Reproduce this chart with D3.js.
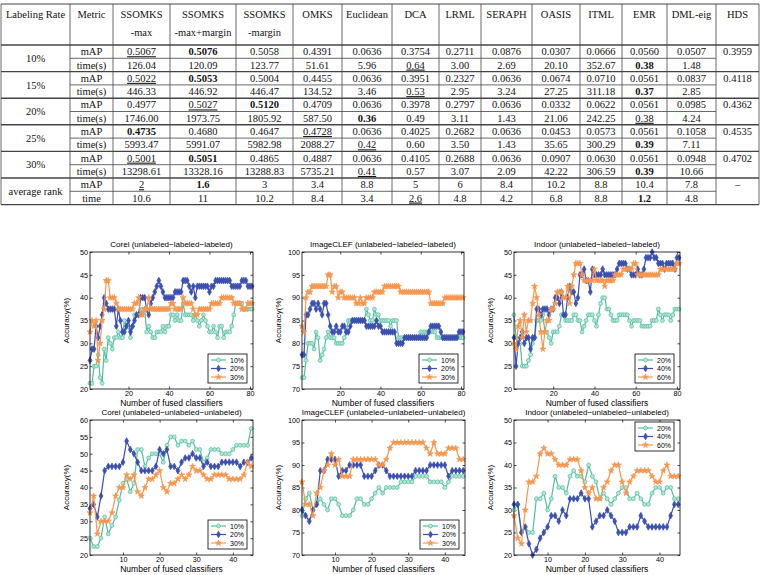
<!DOCTYPE html>
<html>
<head>
<meta charset="utf-8">
<script src="https://cdn.jsdelivr.net/npm/d3@7"></script>
<style>
  body{margin:0;background:#fff}
  svg{display:block}
</style>
</head>
<body>
<svg id="fig" width="760" height="575"></svg>
<script>
/* ---------- TABLE DATA ---------- */
const head1 = ["Labeling Rate","Metric","SSOMKS","SSOMKS","SSOMKS","OMKS","Euclidean","DCA","LRML","SERAPH","OASIS","ITML","EMR","DML-eig","HDS"];
const head2 = ["","","-max","-max+margin","-margin","","","","","","","","","",""];
const rates = ["10%","15%","20%","25%","30%","average rank"];
const metricNames = [["mAP","time(s)"],["mAP","time(s)"],["mAP","time(s)"],["mAP","time(s)"],["mAP","time(s)"],["mAP","time"]];
const mapRows = [
  ["0.5067","0.5076","0.5058","0.4391","0.0636","0.3754","0.2711","0.0876","0.0307","0.0666","0.0560","0.0507"],
  ["0.5022","0.5053","0.5004","0.4455","0.0636","0.3951","0.2327","0.0636","0.0674","0.0710","0.0561","0.0837"],
  ["0.4977","0.5027","0.5120","0.4709","0.0636","0.3978","0.2797","0.0636","0.0332","0.0622","0.0561","0.0985"],
  ["0.4735","0.4680","0.4647","0.4728","0.0636","0.4025","0.2682","0.0636","0.0453","0.0573","0.0561","0.1058"],
  ["0.5001","0.5051","0.4865","0.4887","0.0636","0.4105","0.2688","0.0636","0.0907","0.0630","0.0561","0.0948"],
  ["2","1.6","3","3.4","8.8","5","6","8.4","10.2","8.8","10.4","7.8"]
];
const timeRows = [
  ["126.04","120.09","123.77","51.61","5.96","0.64","3.00","2.69","20.10","352.67","0.38","1.48"],
  ["446.33","446.92","446.47","134.52","3.46","0.53","2.95","3.24","27.25","311.18","0.37","2.85"],
  ["1746.00","1973.75","1805.92","587.50","0.36","0.49","3.11","1.43","21.06","242.25","0.38","4.24"],
  ["5993.47","5991.07","5982.98","2088.27","0.42","0.60","3.50","1.43","35.65","300.29","0.39","7.11"],
  ["13298.61","13328.16","13288.83","5735.21","0.41","0.57","3.07","2.09","42.22","306.59","0.39","10.66"],
  ["10.6","11","10.2","8.4","3.4","2.6","4.8","4.2","6.8","8.8","1.2","4.8"]
];
const hdsVals = ["0.3959","0.4118","0.4362","0.4535","0.4702","–"];
// cell keys: m=mAP row, t=time row, group index, column index
const boldCells = ["m0-1","t0-10","m1-1","t1-10","m2-2","t2-4","m3-0","t3-10","m4-1","t4-10","m5-1","t5-10"];
const underCells = ["m0-0","t0-5","m1-0","t1-5","m2-1","t2-10","m3-3","t3-4","m4-0","t4-4","m5-0","t5-5"];

/* ---------- CHART DATA ---------- */
const corelLab10 = [21.25,21.25,25,25,27.5,22.5,21.25,28.75,26.25,31.25,
  30,28.75,31.25,31.25,32.5,31.25,31.25,35,33.75,33.75,
  31.25,33.75,36.25,36.25,36.25,36.25,37.5,37.5,32.5,33.75,
  32.5,31.25,31.25,32.5,32.5,32.5,33.75,32.5,33.75,33.75,
  36.25,36.25,35,36.25,35,35,38.75,36.25,36.25,36.25,
  36.25,35,36.25,35,33.75,35,36.25,35,33.75,32.5,
  32.5,33.75,32.5,31.25,33.75,33.75,31.25,32.5,32.5,32.5,
  33.75,36.25,38.75,38.75,38.75,38.75,37.5,37.5,37.5,37.5,37.5];
const corelLab20 = [26.25,28.75,28.75,33.75,31.25,33.75,36.25,40,38.75,37.5,
  37.5,37.5,37.5,33.75,37.5,35,32.5,32.5,33.75,35,
  32.5,33.75,35,36.25,36.25,40,40,40,37.5,36.25,
  38.75,40,41.25,42.5,43.75,42.5,41.25,40,40,40,
  40,40,41.25,41.25,41.25,41.25,43.75,43.75,43.75,42.5,
  41.25,42.5,40,42.5,42.5,42.5,42.5,42.5,42.5,41.25,
  42.5,42.5,43.75,43.75,43.75,43.75,43.75,43.75,43.75,43.75,
  42.5,42.5,42.5,42.5,42.5,43.75,43.75,43.75,42.5,42.5,42.5];
const corelLab30 = [32.5,35,33.75,35,26.25,30,35,37.5,43.75,43.75,
  40,40,40,38.75,37.5,37.5,37.5,37.5,37.5,37.5,
  37.5,37.5,38.75,38.75,40,36.25,36.25,37.5,37.5,40,
  37.5,37.5,37.5,37.5,37.5,37.5,37.5,37.5,37.5,37.5,
  38.75,38.75,37.5,37.5,37.5,37.5,40,38.75,38.75,38.75,
  38.75,37.5,36.25,36.25,37.5,37.5,37.5,37.5,37.5,37.5,
  38.75,38.75,38.75,38.75,38.75,40,40,40,40,40,
  40,38.75,38.75,38.75,38.75,37.5,37.5,37.5,38.75,38.75,38.75];

const clefLab10 = [72.5,72.5,76.25,80,80,80,78.75,82.5,81.25,76.25,
  77.5,78.75,81.25,82.5,81.25,81.25,81.25,80,80,80,
  80,81.25,82.5,85,85,85,85,85,85,85,
  85,85,87.5,86.25,85,85,87.5,86.25,86.25,85,
  85,85,85,85,83.75,85,85,85,81.25,81.25,
  81.25,81.25,81.25,81.25,81.25,81.25,81.25,81.25,81.25,82.5,
  82.5,82.5,82.5,82.5,82.5,82.5,82.5,81.25,81.25,81.25,
  81.25,81.25,81.25,81.25,81.25,81.25,81.25,81.25,81.25,81.25,81.25];
const clefLab20 = [77.5,77.5,86.25,86.25,87.5,88.75,88.75,87.5,88.75,87.5,
  86.25,88.75,88.75,86.25,83.75,82.5,82.5,83.75,82.5,82.5,
  83.75,83.75,82.5,82.5,83.75,85,85,85,85,85,
  85,85,83.75,83.75,83.75,83.75,83.75,85,83.75,83.75,
  82.5,82.5,82.5,82.5,82.5,82.5,82.5,80,80,80,
  80,81.25,81.25,81.25,81.25,81.25,81.25,81.25,81.25,81.25,
  81.25,81.25,81.25,82.5,83.75,83.75,83.75,83.75,83.75,82.5,
  81.25,81.25,81.25,81.25,81.25,81.25,81.25,81.25,82.5,82.5,82.5];
const clefLab30 = [83.75,82.5,90,91.25,91.25,92.5,92.5,92.5,92.5,92.5,
  92.5,92.5,92.5,95,95,91.25,92.5,92.5,90,91.25,
  91.25,90,90,90,90,90,90,88.75,88.75,90,
  88.75,88.75,90,90,90,90,91.25,91.25,91.25,91.25,
  91.25,92.5,92.5,92.5,92.5,92.5,92.5,92.5,92.5,91.25,
  91.25,91.25,91.25,91.25,91.25,91.25,91.25,91.25,91.25,91.25,
  91.25,91.25,91.25,91.25,88.75,88.75,88.75,88.75,88.75,88.75,
  88.75,90,90,90,90,90,90,90,90,90,90];

const indoorLab20 = [36.25,31.25,30,30,25,25,25,26.25,27.5,30,
  31.25,35,35,35,36.25,32.5,32.5,31.25,30,32.5,
  32.5,32.5,33.75,36.25,36.25,35,35,35,35,36.25,
  36.25,35,35,32.5,33.75,35,36.25,36.25,36.25,35,
  33.75,36.25,38.75,40,40,37.5,37.5,36.25,35,35,
  35,36.25,36.25,36.25,36.25,36.25,35,33.75,35,35,
  35,35,33.75,33.75,33.75,33.75,33.75,35,35,35,
  37.5,36.25,35,36.25,36.25,36.25,35,36.25,37.5,37.5,37.5];
const indoorLab40 = [31.25,25,30,31.25,32.5,30,31.25,31.25,28.75,31.25,
  31.25,37.5,37.5,36.25,37.5,37.5,37.5,36.25,37.5,37.5,
  40,40,38.75,41.25,36.25,36.25,40,42.5,41.25,41.25,
  38.75,40,45,45,46.25,43.75,43.75,41.25,46.25,45,
  45,45,45,46.25,45,45,45,45,45,45,
  46.25,47.5,47.5,47.5,47.5,46.25,46.25,45,45,45,
  46.25,45,45,46.25,48.75,48.75,48.75,50,48.75,48.75,
  47.5,47.5,47.5,46.25,47.5,47.5,47.5,47.5,46.25,48.75,48.75];
const indoorLab60 = [30,28.75,33.75,35,31.25,36.25,32.5,35,35,38.75,
  42.5,40,36.25,32.5,28.75,32.5,35,35,37.5,37.5,
  38.75,41.25,41.25,41.25,40,40,42.5,38.75,42.5,45,
  47.5,47.5,47.5,45,43.75,43.75,43.75,43.75,43.75,46.25,
  43.75,43.75,43.75,43.75,42.5,43.75,43.75,43.75,43.75,45,
  45,45,45,46.25,46.25,46.25,46.25,46.25,47.5,47.5,
  45,45,45,45,45,45,45,45,45,45,
  45,46.25,46.25,46.25,46.25,46.25,46.25,46.25,46.25,47.5,47.5];

const corelUnl10 = [25,22.5,22.5,25,31.25,26.25,28.75,31.25,36.25,41.25,
  42.5,38.75,41.25,51.25,51.25,46.25,48.75,50,50,50,
  47.5,52.5,55,55,52.5,53.75,53.75,52.5,53.75,51.25,
  51.25,47.5,48.75,51.25,51.25,51.25,50,50,50,51.25,
  52.5,52.5,52.5,52.5,57.5];
const corelUnl20 = [33.75,35,31.25,37.5,45,46.25,46.25,46.25,46.25,47.5,
  53.75,51.25,50,47.5,45,45,45,45,46.25,51.25,
  50,51.25,46.25,46.25,45,47.5,48.75,48.75,50,48.75,
  48.75,46.25,47.5,46.25,46.25,46.25,47.5,47.5,47.5,47.5,
  47.5,46.25,47.5,47.5,48.75];
const corelUnl30 = [32.5,37.5,26.25,30,30,30,32.5,37.5,40,40,
  43.75,42.5,43.75,38.75,37.5,40,42.5,42.5,43.75,45,
  40,38.75,41.25,41.25,42.5,43.75,42.5,43.75,46.25,45,
  45,43.75,42.5,42.5,43.75,43.75,43.75,43.75,42.5,42.5,
  42.5,42.5,43.75,47.5,46.25];

const clefUnl10 = [78.75,82.5,83.75,80,81.25,82.5,81.25,80,82.5,82.5,
  81.25,78.75,78.75,78.75,80,82.5,82.5,81.25,81.25,82.5,
  83.75,85,83.75,85,85,85,85,86.25,86.25,86.25,
  86.25,87.5,87.5,87.5,87.5,86.25,86.25,86.25,86.25,85,
  86.25,87.5,87.5,87.5,87.5];
const clefUnl20 = [80,78.75,77.5,80,81.25,88.75,88.75,91.25,91.25,91.25,
  87.5,88.75,88.75,90,90,90,90,87.5,87.5,87.5,
  88.75,90,90,88.75,87.5,87.5,87.5,87.5,87.5,87.5,
  87.5,88.75,88.75,88.75,88.75,90,90,90,90,90,
  87.5,88.75,88.75,88.75,88.75];
const clefUnl30 = [86.25,81.25,81.25,78.75,83.75,85,88.75,90,92.5,90,
  91.25,87.5,87.5,87.5,91.25,91.25,91.25,91.25,91.25,91.25,
  91.25,90,90,91.25,93.75,95,95,95,95,95,
  95,95,95,95,93.75,92.5,95,92.5,92.5,92.5,
  93.75,93.75,93.75,91.25,91.25];

const indoorUnl20 = [30,31.25,25,26.25,25,25,32.5,32.5,33.75,30,
  32.5,37.5,35,35,33.75,37.5,38.75,37.5,37.5,36.25,
  40,37.5,36.25,32.5,33.75,32.5,31.25,32.5,33.75,35,
  35,32.5,32.5,33.75,32.5,31.25,31.25,33.75,35,35,
  33.75,35,35,32.5,32.5];
const indoorUnl40 = [31.25,31.25,25,26.25,22.5,20,21.25,23.75,25,26.25,
  28.75,28.75,27.5,30,28.75,32.5,32.5,32.5,33.75,32.5,
  32.5,26.25,27.5,28.75,28.75,30,28.75,27.5,25,25,
  25,26.25,26.25,26.25,28.75,27.5,26.25,26.25,26.25,26.25,
  26.25,26.25,28.75,31.25,31.25];
const indoorUnl60 = [28.75,23.75,22.5,30,36.25,36.25,37.5,42.5,43.75,42.5,
  42.5,41.25,40,40,40,41.25,41.25,41.25,38.75,35,
  33.75,35,32.5,32.5,35,36.25,38.75,40,40,36.25,
  33.75,36.25,37.5,38.75,38.75,38.75,38.75,37.5,36.25,36.25,
  38.75,40,37.5,37.5,37.5];

const labelsA = ["10%","20%","30%"];
const labelsB = ["20%","40%","60%"];
const xTicksTop = [20,40,60,80];
const xTicksBot = [10,20,30,40];

/* ---------- CONFIG ---------- */
const COLORS = ["#52bf9f","#3c50b0","#f7964f"];
const FILLS  = ["#b5e6d5","#3c50b0","#f7964f"];
const SYMS   = [d3.symbolCircle, d3.symbolDiamond, d3.symbolStar];
const SSIZE  = [12, 13, 11];
const SERIF  = "'Liberation Serif','Times New Roman',serif";
const SANS   = "'Liberation Sans',Arial,sans-serif";

const svg = d3.select("#fig");

/* ---------- TABLE ---------- */
const colX = [1,70,113,170,236,293,342,392,439,481,532,580,622,667,716,759];
const T_TOP = 4, H_BOT = 45, ROW = 13.3;
const tbl = svg.append("g").style("font-family",SERIF).style("font-size","10.5px").attr("fill","#111");
const cx = i => (colX[i]+colX[i+1])/2;
const nG = rates.length;
const T_BOT = H_BOT + nG*2*ROW;

head1.forEach((t,i)=>tbl.append("text").attr("x",cx(i)).attr("y",T_TOP+14).attr("text-anchor","middle").text(t));
head2.forEach((t,i)=>{ if(t) tbl.append("text").attr("x",cx(i)).attr("y",T_TOP+32).attr("text-anchor","middle").text(t); });

for(let gI=0; gI<nG; gI++){
  const y0 = H_BOT + gI*2*ROW;
  tbl.append("text").attr("x",cx(0)).attr("y",y0+ROW+3.6).attr("text-anchor","middle").text(rates[gI]);
  [mapRows[gI], timeRows[gI]].forEach((vals,r)=>{
    const yy = y0 + r*ROW + ROW/2 + 3.6;
    tbl.append("text").attr("x",cx(1)).attr("y",yy).attr("text-anchor","middle").text(metricNames[gI][r]);
    vals.forEach((v,c)=>{
      const key = (r===0?"m":"t")+gI+"-"+c;
      tbl.append("text").attr("x",cx(c+2)).attr("y",yy).attr("text-anchor","middle")
        .style("font-weight",boldCells.includes(key)?"bold":null)
        .style("text-decoration",underCells.includes(key)?"underline":null)
        .text(v);
    });
  });
  tbl.append("text").attr("x",cx(14)).attr("y",y0+ROW/2+3.6).attr("text-anchor","middle").text(hdsVals[gI]);
}

const lines = tbl.append("g").attr("stroke","#444").attr("fill","none");
colX.forEach(x=>lines.append("line").attr("x1",x).attr("x2",x).attr("y1",T_TOP).attr("y2",T_BOT).attr("stroke-width",0.8));
lines.append("line").attr("x1",colX[0]).attr("x2",colX[15]).attr("y1",T_TOP).attr("y2",T_TOP).attr("stroke-width",1);
for(let gI=0; gI<=nG; gI++){
  const y = H_BOT + gI*2*ROW;
  lines.append("line").attr("x1",colX[0]).attr("x2",colX[15]).attr("y1",y).attr("y2",y).attr("stroke-width",1.4);
  if(gI<nG) lines.append("line").attr("x1",colX[1]).attr("x2",colX[14]).attr("y1",y+ROW).attr("y2",y+ROW).attr("stroke-width",0.8);
}

/* ---------- PANELS ---------- */
const panels = [
  {title:"Corel (unlabeled−labeled−labeled)", x0:90, x1:253, y0:252, y1:389, xDom:[1,81.5], xTicks:xTicksTop,
   yDom:[20,50], series:[corelLab10,corelLab20,corelLab30], labels:labelsA, leg:"br"},
  {title:"ImageCLEF (unlabeled−labeled−labeled)", x0:302, x1:464, y0:252, y1:389, xDom:[1,81.5], xTicks:xTicksTop,
   yDom:[70,100], series:[clefLab10,clefLab20,clefLab30], labels:labelsA, leg:"br"},
  {title:"Indoor (unlabeled−labeled−labeled)", x0:514, x1:680, y0:252, y1:389, xDom:[1,81.5], xTicks:xTicksTop,
   yDom:[20,50], series:[indoorLab20,indoorLab40,indoorLab60], labels:labelsB, leg:"br"},
  {title:"Corel (unlabeled−unlabeled−unlabeled)", x0:90, x1:253, y0:420, y1:555, xDom:[1,45.5], xTicks:xTicksBot,
   yDom:[20,60], series:[corelUnl10,corelUnl20,corelUnl30], labels:labelsA, leg:"br"},
  {title:"ImageCLEF (unlabeled−unlabeled−unlabeled)", x0:302, x1:465, y0:420, y1:555, xDom:[1,45.5], xTicks:xTicksBot,
   yDom:[70,100], series:[clefUnl10,clefUnl20,clefUnl30], labels:labelsA, leg:"br"},
  {title:"Indoor (unlabeled−unlabeled−unlabeled)", x0:514, x1:680, y0:420, y1:555, xDom:[1,45.5], xTicks:xTicksBot,
   yDom:[20,50], series:[indoorUnl20,indoorUnl40,indoorUnl60], labels:labelsB, leg:"tr"}
];

panels.forEach(drawPanel);

function drawPanel(p){
  const g = svg.append("g").style("font-family",SANS);
  const x = d3.scaleLinear().domain(p.xDom).range([p.x0,p.x1]);
  const y = d3.scaleLinear().domain(p.yDom).range([p.y1,p.y0]);
  const yTicks = d3.range(p.yDom[0], p.yDom[1]+0.1, 5);

  g.append("rect").attr("x",p.x0).attr("y",p.y0).attr("width",p.x1-p.x0).attr("height",p.y1-p.y0)
    .attr("fill","#fff");

  const ax = (sel)=>{ sel.select(".domain").remove();
    sel.selectAll("line").attr("stroke","#000").attr("stroke-width",0.7);
    sel.selectAll("text").attr("fill","#000").style("font-size","7.2px").style("font-family",SANS); };

  g.append("g").attr("transform",`translate(0,${p.y1})`)
    .call(d3.axisBottom(x).tickValues(p.xTicks).tickSize(-2.5).tickPadding(2)).call(ax);
  g.append("g").attr("transform",`translate(0,${p.y0})`)
    .call(d3.axisTop(x).tickValues(p.xTicks).tickSize(-2.5).tickFormat("")).call(ax);
  g.append("g").attr("transform",`translate(${p.x0},0)`)
    .call(d3.axisLeft(y).tickValues(yTicks).tickSize(-2.5).tickPadding(2)).call(ax);
  g.append("g").attr("transform",`translate(${p.x1},0)`)
    .call(d3.axisRight(y).tickValues(yTicks).tickSize(-2.5).tickFormat("")).call(ax);

  const line = d3.line().x((d,i)=>x(i+1)).y(d=>y(d));
  p.series.forEach((s,k)=>{
    g.append("path").datum(s).attr("d",line).attr("fill","none")
      .attr("stroke",COLORS[k]).attr("stroke-width",1.2);
    g.append("g").selectAll("path").data(s).join("path")
      .attr("transform",(d,i)=>`translate(${x(i+1)},${y(d)})`)
      .attr("d",d3.symbol().type(SYMS[k]).size(SSIZE[k]))
      .attr("fill",FILLS[k]).attr("stroke",COLORS[k]).attr("stroke-width",0.7);
  });

  g.append("rect").attr("x",p.x0).attr("y",p.y0).attr("width",p.x1-p.x0).attr("height",p.y1-p.y0)
    .attr("fill","none").attr("stroke","#000").attr("stroke-width",0.8);

  // title and axis labels
  g.append("text").attr("x",(p.x0+p.x1)/2).attr("y",p.y0-5).attr("text-anchor","middle")
    .style("font-size","8px").text(p.title);
  g.append("text").attr("x",(p.x0+p.x1)/2).attr("y",p.y1+16.5).attr("text-anchor","middle")
    .style("font-size","8.5px").text("Number of fused classifiers");
  g.append("text").attr("transform",`translate(${p.x0-21},${(p.y0+p.y1)/2}) rotate(-90)`)
    .attr("text-anchor","middle").style("font-size","8px").text("Accuracy(%)");

  // legend
  const LW=39, LH=29;
  const lx = p.x1-LW-6;
  const ly = p.leg==="tr" ? p.y0+2 : p.y1-LH-6;
  const lg = g.append("g").attr("transform",`translate(${lx},${ly})`);
  lg.append("rect").attr("width",LW).attr("height",LH).attr("fill","#fff").attr("stroke","#000").attr("stroke-width",0.8);
  p.labels.forEach((lab,k)=>{
    const yy = 6 + k*8.5;
    lg.append("line").attr("x1",3).attr("x2",18).attr("y1",yy).attr("y2",yy)
      .attr("stroke",COLORS[k]).attr("stroke-width",1.2);
    lg.append("path").attr("transform",`translate(10.5,${yy})`)
      .attr("d",d3.symbol().type(SYMS[k]).size(SSIZE[k]))
      .attr("fill",FILLS[k]).attr("stroke",COLORS[k]).attr("stroke-width",0.7);
    lg.append("text").attr("x",22).attr("y",yy+2.6).style("font-size","7px").text(lab);
  });
}
</script>
</body>
</html>
